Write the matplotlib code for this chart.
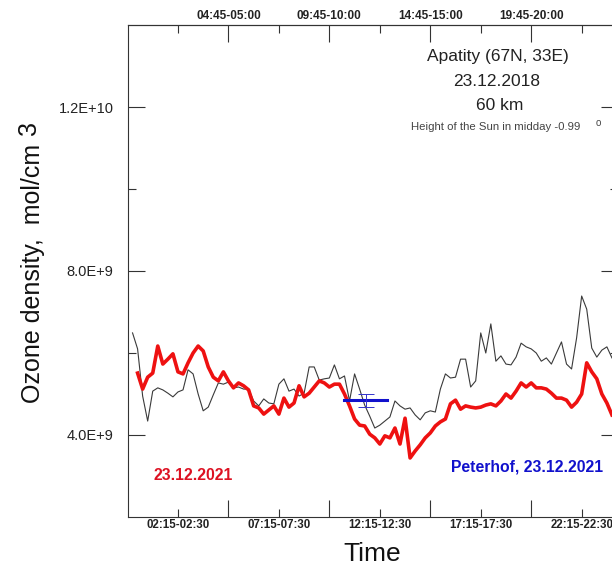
import matplotlib.pyplot as plt
from matplotlib.ticker import FixedLocator, NullFormatter

plt.rcParams['font.family'] = ['Liberation Sans', 'DejaVu Sans']

# Ozone density at 60 km, units of 1e9 mol/cm3, one value per 15-min interval.
apatity_2018 = [6.49, 6.10, 4.95, 4.34, 5.07, 5.15, 5.10, 5.02, 4.93, 5.05,
                5.10, 5.59, 5.49, 5.00, 4.59, 4.68, 4.98, 5.27, 5.24, 5.29,
                5.15, 5.17, 5.12, 5.12, 4.83, 4.71, 4.88, 4.78, 4.76, 5.24,
                5.37, 5.07, 5.12, 4.95, 5.02, 5.66, 5.66, 5.34, 5.37, 5.39,
                5.71, 5.37, 5.44, 4.83, 5.49, 5.12, 4.73, 4.46, 4.17, 4.24,
                4.34, 4.44, 4.83, 4.71, 4.63, 4.66, 4.49, 4.37, 4.54, 4.59,
                4.56, 5.12, 5.49, 5.39, 5.41, 5.85, 5.85, 5.17, 5.32, 6.49,
                6.00, 6.71, 5.80, 5.93, 5.73, 5.71, 5.90, 6.24, 6.15, 6.10,
                6.00, 5.80, 5.88, 5.73, 6.00, 6.27, 5.73, 5.61, 6.37, 7.39,
                7.07, 6.12, 5.90, 6.07, 6.15, 5.88]
apatity_2021 = [5.51, 5.12, 5.41, 5.51, 6.17, 5.73, 5.85, 5.98, 5.54, 5.49,
                5.76, 6.00, 6.17, 6.05, 5.66, 5.41, 5.32, 5.54, 5.32, 5.15,
                5.27, 5.20, 5.10, 4.71, 4.66, 4.51, 4.61, 4.71, 4.51, 4.90,
                4.68, 4.78, 5.20, 4.93, 5.02, 5.17, 5.32, 5.27, 5.17, 5.24,
                5.24, 5.00, 4.71, 4.39, 4.24, 4.22, 4.02, 3.93, 3.78, 3.98,
                3.93, 4.17, 3.78, 4.41, 3.44, 3.61, 3.76, 3.93, 4.05, 4.22,
                4.32, 4.39, 4.76, 4.85, 4.63, 4.71, 4.68, 4.66, 4.68, 4.73,
                4.76, 4.71, 4.83, 5.00, 4.90, 5.07, 5.27, 5.17, 5.27, 5.15,
                5.15, 5.12, 5.02, 4.90, 4.90, 4.85, 4.68, 4.80, 5.00, 5.76,
                5.54, 5.37, 5.00, 4.78, 4.49]
x_2018 = list(range(1, len(apatity_2018) + 1))
x_2021 = list(range(2, len(apatity_2021) + 2))

# Peterhof measurement: interval span, mean and error.
peterhof_span = [43, 51.5]
peterhof_mid = 47.3
peterhof_value = 4.85
peterhof_err = 0.16

bottom_ticks = [10, 30, 50, 70, 90]
bottom_labels = ['02:15-02:30', '07:15-07:30', '12:15-12:30', '17:15-17:30', '22:15-22:30']
top_ticks = [20, 40, 60, 80]
top_labels = ['04:45-05:00', '09:45-10:00', '14:45-15:00', '19:45-20:00']
y_ticks = [4e9, 8e9, 1.2e10]
y_labels = ['4.0E+9', '8.0E+9', '1.2E+10']

fig = plt.figure(figsize=(6.12, 5.68), dpi=100)
ax = fig.add_axes([127.5 / 612, 51 / 568, 490.5 / 612, 492 / 568])

ax.plot(x_2018, [v * 1e9 for v in apatity_2018], color='#3a3a3a', lw=0.8)
ax.plot(x_2021, [v * 1e9 for v in apatity_2021], color='#ee1111', lw=2.6)
ax.plot(peterhof_span, [peterhof_value * 1e9] * 2, color='#1111cc', lw=2.2)
ax.errorbar([peterhof_mid], [peterhof_value * 1e9], yerr=[peterhof_err * 1e9],
            color='#3333cc', lw=0.7, capsize=5.5, capthick=0.7)

ax.set_xlim(0, 97.2)
ax.set_ylim(2e9, 1.4e10)

# Bottom axis: long unlabeled ticks, short labeled ones.
ax.xaxis.set_major_locator(FixedLocator(top_ticks))
ax.xaxis.set_major_formatter(NullFormatter())
ax.set_xticks(bottom_ticks, labels=bottom_labels, minor=True)
ax.tick_params(axis='x', which='major', direction='in', length=12, width=0.8, color='#333333')
ax.tick_params(axis='x', which='minor', direction='in', length=6, width=0.8, color='#333333',
               labelsize=8.3, pad=1.5, labelcolor='#222222')
for lab in ax.get_xticklabels(minor=True):
    lab.set_fontweight('bold')

# Top axis: labeled long ticks.
top = ax.secondary_xaxis('top')
top.set_xticks(top_ticks, labels=top_labels)
top.set_xticks(bottom_ticks, minor=True)
top.tick_params(axis='x', which='major', direction='in', length=12, width=0.8, color='#333333',
                labelsize=8.5, pad=2, labelcolor='#222222')
top.tick_params(axis='x', which='minor', direction='in', length=6, width=0.8, color='#333333')
for lab in top.get_xticklabels():
    lab.set_fontweight('bold')
top.spines['top'].set_color('#333333')

ax.set_yticks(y_ticks, labels=y_labels)
ax.set_yticks([6e9, 1e10], minor=True)
ax.tick_params(axis='y', which='major', direction='in', length=12, width=0.8, color='#333333',
               labelsize=10.5, pad=10, labelcolor='#222222', right=True)
ax.tick_params(axis='y', which='minor', direction='in', length=6, width=0.8, color='#333333',
               right=True)

for s in ax.spines.values():
    s.set_color('#333333')
    s.set_linewidth(0.8)

fig.text(33 / 612, 1 - 273 / 568, 'Ozone density,  mol/cm', rotation=90,
         ha='center', va='center', fontsize=18, color='#111111')
fig.text(29 / 612, 1 - 128 / 568, '3', rotation=90,
         ha='center', va='center', fontsize=18, color='#111111')
fig.text(372 / 612, 1 - 554 / 568, 'Time', ha='center', va='center',
         fontsize=19, color='#111111')

fig.text(498 / 612, 1 - 57 / 568, 'Apatity (67N, 33E)', ha='center', va='center',
         fontsize=12.5, color='#222222')
fig.text(497 / 612, 1 - 81 / 568, '23.12.2018', ha='center', va='center',
         fontsize=12.5, color='#222222')
fig.text(500 / 612, 1 - 105 / 568, '60 km', ha='center', va='center',
         fontsize=12.5, color='#222222')
fig.text(496 / 612, 1 - 127 / 568, 'Height of the Sun in midday -0.99', ha='center',
         va='center', fontsize=8.2, color='#444444')
fig.text(598 / 612, 1 - 123 / 568, 'o', ha='center', va='center', fontsize=7,
         color='#444444')

fig.text(193 / 612, 1 - 475 / 568, '23.12.2021', ha='center', va='center',
         fontsize=11.3, fontweight='bold', color='#dd1122')
fig.text(527 / 612, 1 - 467 / 568, 'Peterhof, 23.12.2021', ha='center', va='center',
         fontsize=11.3, fontweight='bold', color='#1111cc')

fig.savefig('out.png', dpi=100)
